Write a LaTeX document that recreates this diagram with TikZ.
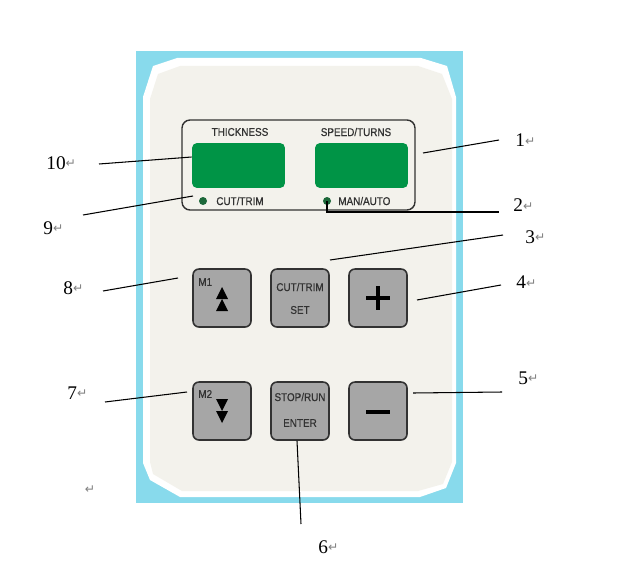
\documentclass[tikz,border=0pt]{standalone}
\usepackage{fontspec}
\setmainfont{Liberation Serif}
\newfontfamily\keyfont[FakeBold=0.6]{Liberation Sans}
\newfontfamily\symfont{DejaVu Sans}

\definecolor{frameblue}{RGB}{136,218,236}
\definecolor{panelcream}{RGB}{243,242,236}
\definecolor{lcdgreen}{RGB}{0,148,70}
\definecolor{ledgreen}{RGB}{28,104,58}
\definecolor{keygray}{RGB}{166,166,166}
\definecolor{inkgray}{RGB}{50,50,50}

% paragraph mark after each number
\newcommand{\ret}{{\symfont\fontsize{7}{7}\selectfont\color{gray}\raisebox{0.2ex}{↵}}}
% narrow panel lettering
\newcommand{\keytext}[1]{{\keyfont\fontsize{6.4}{7}\selectfont\scalebox{0.88}[1]{#1}}}

\tikzset{
  num/.style={anchor=west, inner sep=0pt, font=\fontsize{11}{12}\selectfont},
  callout/.style={draw=black, line width=0.6pt},
  keybox/.style={draw=inkgray, fill=keygray, line width=0.9pt,
    rounded corners=0.12cm, minimum size=1.16cm, inner sep=0pt},
  lcd/.style={fill=lcdgreen, rounded corners=0.1cm,
    minimum width=1.86cm, minimum height=0.9cm, inner sep=0pt},
  led/.style={circle, fill=ledgreen, minimum size=0.16cm, inner sep=0pt},
  lettering/.style={inner sep=0pt, text=inkgray},
}

\begin{document}
\begin{tikzpicture}[x=0.02cm, y=-0.02cm]
  \useasboundingbox (0,0) rectangle (635,581);

  % housing
  \fill[frameblue] (136,51) rectangle (463,503);
  \fill[white] (143,97) -- (153,66) -- (177,58) -- (421,58) -- (447,66)
    -- (456,97) -- (456,463) -- (446,488) -- (420,497) -- (180,497)
    -- (150,480) -- (143,463) -- cycle;
  \fill[panelcream] (150,99) -- (158,74) -- (180,66) -- (418,66) -- (442,74)
    -- (452,99) -- (452,462) -- (443,484) -- (418,491) -- (182,491)
    -- (153,474) -- (150,462) -- cycle;

  % display block
  \node[draw=inkgray, line width=0.8pt, rounded corners=0.16cm,
    minimum width=4.66cm, minimum height=1.8cm] (panel) at (298.5,165) {};
  \node[lcd] (thick) at (238.5,165.5) {};
  \node[lcd] (speed) at (361.5,165.5) {};
  \node[lettering] (thickT) at (240,132) {\keytext{THICKNESS}};
  \node[lettering] (speedT) at (356,132) {\keytext{SPEED/TURNS}};
  \node[led] (ledcut) at (203,201) {};
  \node[led] (ledman) at (327,201) {};
  \node[lettering, anchor=west] (cutT) at (216,201) {\keytext{CUT/TRIM}};
  \node[lettering, anchor=west] (manT) at (338,201) {\keytext{MAN/AUTO}};

  % keys
  \node[keybox] (kup) at (222,298) {};
  \node[keybox] (kset) at (300,298) {};
  \node[keybox] (kplus) at (378,298) {};
  \node[keybox] (kdown) at (222,411) {};
  \node[keybox] (kenter) at (300,411) {};
  \node[keybox] (kminus) at (378,411) {};

  \node[lettering, anchor=west] (m1) at (198,282) {\keytext{M1}};
  \node[lettering, anchor=west] (m2) at (198,394) {\keytext{M2}};
  \fill[black] (216,299) -- (228,299) -- (222,287) -- cycle;
  \fill[black] (216,311) -- (228,311) -- (222,299) -- cycle;
  \fill[black] (216,399) -- (228,399) -- (222,411) -- cycle;
  \fill[black] (216,411) -- (228,411) -- (222,423) -- cycle;

  \node[lettering] (cutK) at (300,287) {\keytext{CUT/TRIM}};
  \node[lettering] (setK) at (300,310) {\keytext{SET}};
  \node[lettering] (stopK) at (300,397) {\keytext{STOP/RUN}};
  \node[lettering] (enterK) at (300,423) {\keytext{ENTER}};

  \draw[line width=1.8pt] (366,298) -- (390,298) (378,286) -- (378,310);
  \draw[line width=1.8pt] (366,412) -- (390,412);

  % numbers
  \node[num] (n1) at (515,140) {1\ret};
  \node[num] (n2) at (513,205) {2\ret};
  \node[num] (n3) at (525,237) {3\ret};
  \node[num] (n4) at (516,282) {4\ret};
  \node[num] (n5) at (518,378) {5\ret};
  \node[num] (n6) at (318,547) {6\ret};
  \node[num] (n7) at (67,393) {7\ret};
  \node[num] (n8) at (63,288) {8\ret};
  \node[num] (n9) at (43,228) {9\ret};
  \node[num] (n10) at (46,163) {10\ret};
  \node[inner sep=0pt] (blank) at (90,490) {\ret};

  % callout lines
  \coordinate (c1) at (499,140);
  \coordinate (c2) at (499,212);
  \coordinate (c3) at (503,235);
  \coordinate (c4) at (501,285);
  \coordinate (c5) at (502,392);
  \coordinate (c6) at (301,524);
  \coordinate (c7) at (105,402);
  \coordinate (c8) at (103,291);
  \coordinate (c9) at (83,215);
  \coordinate (c10) at (99,164);
  \draw[callout] (423,153) -- (c1);
  \draw[callout] (ledman.center) -- (327,212) -- (c2);
  \draw[callout] (330,260) -- (c3);
  \draw[callout] (417,300) -- (c4);
  \draw[callout] (413,393) -- (c5);
  \draw[callout] (kenter.south) ++(-3,0) -- (c6);
  \draw[callout] (187,392) -- (c7);
  \draw[callout] (178,278) -- (c8);
  \draw[callout] (193,196) -- (c9);
  \draw[callout] (thick.west |- 0,157) -- (c10);
\end{tikzpicture}
\end{document}
